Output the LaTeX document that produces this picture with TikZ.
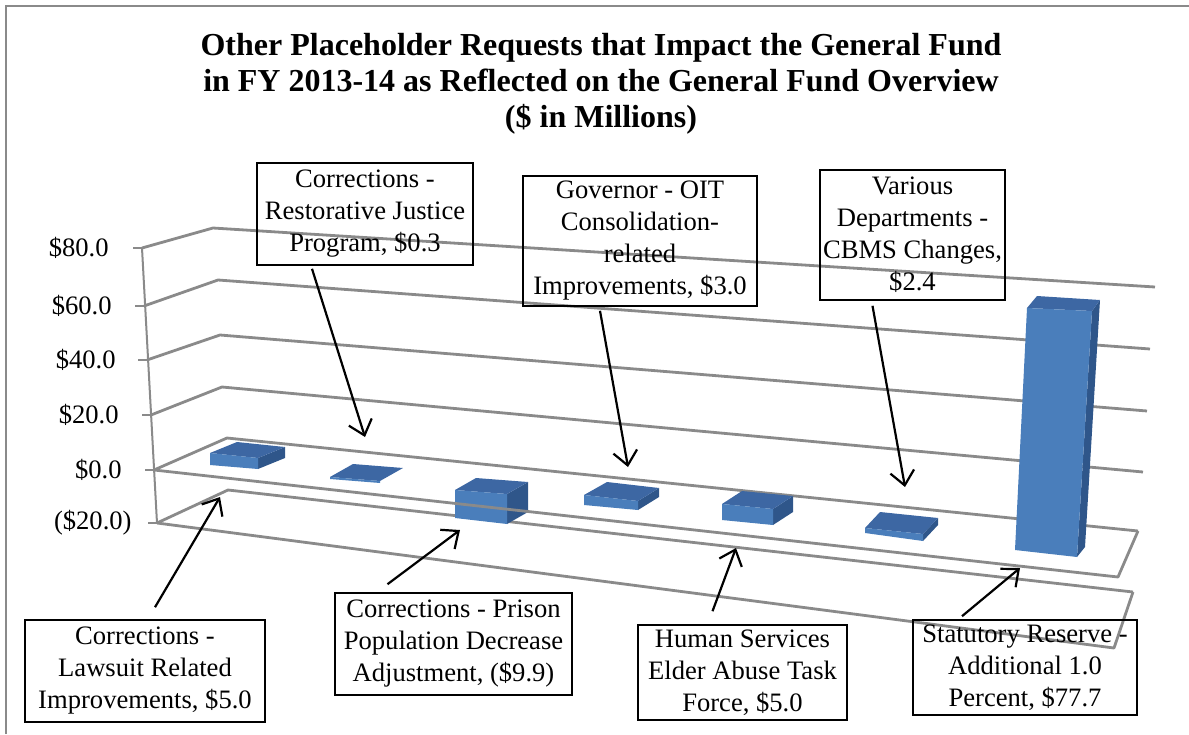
\documentclass[tikz,border=0pt]{standalone}
\usepackage{fontspec}
\setmainfont{Liberation Serif}
\usetikzlibrary{arrows.meta}
\definecolor{barfront}{RGB}{74,126,187}
\definecolor{bartop}{RGB}{61,103,163}
\definecolor{barside}{RGB}{47,86,138}
\definecolor{gridgray}{RGB}{138,138,138}
\tikzset{
  gridline/.style={draw=gridgray, line width=1.4pt, line join=round},
  axistick/.style={draw=gridgray, line width=1pt},
  axislabel/.style={anchor=east, inner sep=0pt, font=\fontsize{13.3}{16}\selectfont},
  callbox/.style={draw=black, line width=0.8pt, inner sep=0pt, align=center,
    font=\fontsize{13.3}{16}\selectfont},
  callout/.style={draw=black, line width=1.1pt, -{Straight Barb[length=7pt,width=12pt,line width=1.1pt]}}
}
\begin{document}
\begin{tikzpicture}[x=0.5pt, y=-0.5pt]
  \useasboundingbox (0,0) rectangle (1189,734);
  \draw[draw=gridgray, line width=1pt] (6,734) -- (6,6) -- (1189,6);
  \node[font=\fontsize{16}{18}\selectfont\bfseries, align=center] (title) at (601,84)
    {Other Placeholder Requests that Impact the General Fund\\
     in FY 2013-14 as Reflected on the General Fund Overview\\
     (\$ in Millions)};
  % back walls
  \draw[axistick] (142,248) -- (157,523);
  \foreach \v/\ax/\ay/\bx/\by/\cx/\cy in {80/142/248/213/228/1155/287,
      60/144/306/218/280/1150/349, 40/147/360/220/335/1147/411,
      20/151/415/222/387/1143/472, 0/154/470/227/438/1138/531,
      -20/157/523/228/490/1133/592}{
    \draw[axistick] (\ax-9,\ay) -- (\ax,\ay);
    \draw[gridline] (\ax,\ay) -- (\bx,\by) -- (\cx,\cy);
  }
  \node[axislabel] (y80) at (109,248) {\$80.0};
  \node[axislabel] (y60) at (112,306) {\$60.0};
  \node[axislabel] (y40) at (116,360) {\$40.0};
  \node[axislabel] (y20) at (119,415) {\$20.0};
  \node[axislabel] (y0) at (122,470) {\$0.0};
  \node[axislabel] (ym20) at (132,523) {(\$20.0)};
  % bars
  \fill[barside] (258,458) -- (285,447) -- (285,458) -- (258,469) -- cycle;
  \fill[bartop] (210,453) -- (258,458) -- (285,447) -- (237,442) -- cycle;
  \fill[barfront] (210,453) -- (258,458) -- (258,469) -- (210,465) -- cycle;
  \fill[bartop] (330,477) -- (380,481) -- (403,468) -- (353,464) -- cycle;
  \fill[barfront] (330,477) -- (380,481) -- (380,483) -- (330,479) -- cycle;
  \fill[barside] (507,494) -- (528,482) -- (528,512) -- (507,524) -- cycle;
  \fill[bartop] (455,490) -- (507,494) -- (528,482) -- (476,478) -- cycle;
  \fill[barfront] (455,490) -- (507,494) -- (507,524) -- (455,518) -- cycle;
  \fill[barside] (638,501) -- (659,488) -- (659,497) -- (638,510) -- cycle;
  \fill[bartop] (584,495) -- (638,501) -- (659,488) -- (607,482) -- cycle;
  \fill[barfront] (584,495) -- (638,501) -- (638,510) -- (584,505) -- cycle;
  \fill[barside] (773,509) -- (793,496) -- (793,512) -- (773,525) -- cycle;
  \fill[bartop] (722,504) -- (773,509) -- (793,496) -- (742,491) -- cycle;
  \fill[barfront] (722,504) -- (773,509) -- (773,525) -- (722,520) -- cycle;
  \fill[barside] (923,534) -- (938,518) -- (938,525) -- (923,541) -- cycle;
  \fill[bartop] (865,528) -- (923,534) -- (938,518) -- (880,512) -- cycle;
  \fill[barfront] (865,528) -- (923,534) -- (923,541) -- (865,533) -- cycle;
  \fill[barside] (1092,311) -- (1100,300) -- (1085,547) -- (1077,557) -- cycle;
  \fill[bartop] (1027,308) -- (1092,311) -- (1100,300) -- (1037,296) -- cycle;
  \fill[barfront] (1027,308) -- (1092,311) -- (1077,557) -- (1015,550) -- cycle;
  % front edges of the floors
  \draw[gridline] (1138,531) -- (1118,577) -- (154,470);
  \draw[gridline] (1133,592) -- (1114,648) -- (157,523);
  % callouts
  \node[callbox, minimum width=108pt, minimum height=51pt] (restorative) at (365,214)
    {Corrections -\\Restorative Justice\\Program, \$0.3};
  \node[callbox, minimum width=117pt, minimum height=65pt] (governor) at (640,241)
    {Governor - OIT\\Consolidation-\\related\\Improvements, \$3.0};
  \node[callbox, minimum width=92.5pt, minimum height=65pt] (various) at (912.5,235)
    {Various\\Departments -\\CBMS Changes,\\\$2.4};
  \node[callbox, minimum width=120pt, minimum height=51pt] (lawsuit) at (145,671)
    {Corrections -\\Lawsuit Related\\Improvements, \$5.0};
  \node[callbox, minimum width=118.5pt, minimum height=51pt] (prison) at (453.5,644)
    {Corrections - Prison\\Population Decrease\\Adjustment, (\$9.9)};
  \node[callbox, minimum width=104.5pt, minimum height=47.5pt] (human) at (742.5,672.5)
    {Human Services\\Elder Abuse Task\\Force, \$5.0};
  \node[callbox, minimum width=112pt, minimum height=47.5pt] (statutory) at (1025,667.5)
    {Statutory Reserve -\\Additional 1.0\\Percent, \$77.7};
  \coordinate (restorative-tip) at (365,437);
  \coordinate (governor-tip) at (628,467);
  \coordinate (various-tip) at (905,487);
  \coordinate (lawsuit-tip) at (220,497);
  \coordinate (prison-tip) at (460,530);
  \coordinate (human-tip) at (736,548);
  \coordinate (statutory-tip) at (1020,568);
  \draw[callout] ([xshift=-26.5pt,yshift=-1.5pt]restorative.south) -- (restorative-tip);
  \draw[callout] ([xshift=-20pt,yshift=-2pt]governor.south) -- (governor-tip);
  \draw[callout] ([xshift=-20pt,yshift=-2.5pt]various.south) -- (various-tip);
  \draw[callout] ([xshift=5pt,yshift=6pt]lawsuit.north) -- (lawsuit-tip);
  \draw[callout] ([xshift=-33pt,yshift=4pt]prison.north) -- (prison-tip);
  \draw[callout] ([xshift=-15pt,yshift=6.5pt]human.north) -- (human-tip);
  \draw[callout] ([xshift=-31.5pt,yshift=1.5pt]statutory.north) -- (statutory-tip);
\end{tikzpicture}
\end{document}
